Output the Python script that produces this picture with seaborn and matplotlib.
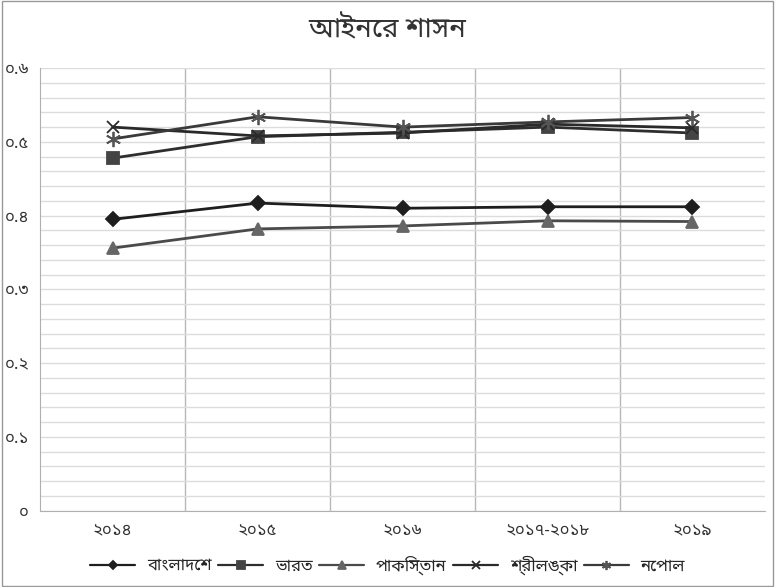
import matplotlib
matplotlib.use("Agg")
import matplotlib.pyplot as plt
import seaborn as sns
import pandas as pd
from matplotlib import font_manager
from matplotlib.ticker import MultipleLocator, FixedLocator

# Chart data
years = ["২০১৪", "২০১৫", "২০১৬", "২০১৭-২০১৮", "২০১৯"]
bangladesh = [0.395, 0.417, 0.410, 0.412, 0.412]
india = [0.478, 0.507, 0.513, 0.520, 0.512]
pakistan = [0.356, 0.382, 0.386, 0.393, 0.392]
srilanka = [0.520, 0.508, 0.512, 0.524, 0.519]
nepal = [0.504, 0.534, 0.520, 0.527, 0.533]
series_names = ["বাংলাদেশ", "ভারত", "পাকিস্তান", "শ্রীলঙ্কা", "নেপাল"]
ytick_vals = [0, 0.1, 0.2, 0.3, 0.4, 0.5, 0.6]
ytick_labels = ["০", "০.১", "০.২", "০.৩", "০.৪", "০.৫", "০.৬"]
title = "আইনের শাসন"

sns.set_style("white")

# pick a font that can draw Bengali, if one is installed
installed = {f.name for f in font_manager.fontManager.ttflist}
wanted = ["Noto Sans Bengali", "Noto Serif Bengali", "Lohit Bengali", "Kalpurush",
          "SolaimanLipi", "Mukti Narrow", "FreeSans", "FreeSerif"]
families = [f for f in wanted if f in installed] + ["DejaVu Sans"]
plt.rcParams["font.family"] = families

values = [bangladesh, india, pakistan, srilanka, nepal]
markers = ["D", "s", "^", "x", (6, 2, 0)]
line_colors = ["#1e1e1e", "#2e2e2e", "#4a4a4a", "#2a2a2a", "#3a3a3a"]
marker_colors = ["#1e1e1e", "#444444", "#666666", "#2a2a2a", "#555555"]
msizes = [7.5, 9, 9, 9, 11]

fig = plt.figure(figsize=(7.75, 5.87), dpi=100)
ax = fig.add_axes([0.052, 0.13, 0.935, 0.754])

for name, vals, mk, lc, mc, ms in zip(series_names, values, markers, line_colors, marker_colors, msizes):
    df = pd.DataFrame({"year": years, "value": vals})
    sns.lineplot(data=df, x="year", y="value", ax=ax, color=lc, linewidth=2,
                 marker=mk, markersize=ms, markerfacecolor=mc, markeredgecolor=mc,
                 markeredgewidth=1.3, label=name, sort=False)

ax.set_xlim(-0.5, 4.5)
ax.set_ylim(0, 0.6)
ax.set_yticks(ytick_vals)
ax.set_yticklabels(ytick_labels)
ax.yaxis.set_minor_locator(MultipleLocator(0.02))
ax.xaxis.set_minor_locator(FixedLocator([0.5, 1.5, 2.5, 3.5]))
ax.grid(which="minor", axis="y", color="#dcdcdc", linewidth=1)
ax.grid(which="major", axis="y", color="#dcdcdc", linewidth=1)
ax.grid(which="minor", axis="x", color="#b8b8b8", linewidth=1)
ax.set_axisbelow(True)
ax.tick_params(axis="both", which="both", length=0, labelsize=12, colors="#333333")
ax.tick_params(axis="x", pad=9)
ax.tick_params(axis="y", pad=8)
ax.set_xlabel("")
ax.set_ylabel("")
for side in ["top", "right"]:
    ax.spines[side].set_visible(False)
for side in ["left", "bottom"]:
    ax.spines[side].set_color("#b0b0b0")

handles, labels = ax.get_legend_handles_labels()
ax.get_legend().remove()
leg = fig.legend(handles, labels, loc="center", bbox_to_anchor=(0.5, 0.037), ncol=5,
                 frameon=False, fontsize=12, handlelength=2.7, columnspacing=0.4,
                 handletextpad=0.7, markerscale=0.6)
for h in leg.legend_handles:
    h.set_linewidth(1.6)

fig.text(0.5, 0.948, title, ha="center", va="center", fontsize=20, color="#333333")

# thin border round the whole figure
fig.patches.append(plt.Rectangle((0.002, 0.002), 0.996, 0.996, transform=fig.transFigure,
                                 fill=False, edgecolor="#999999", linewidth=1))

fig.savefig("out.png", dpi=100)
